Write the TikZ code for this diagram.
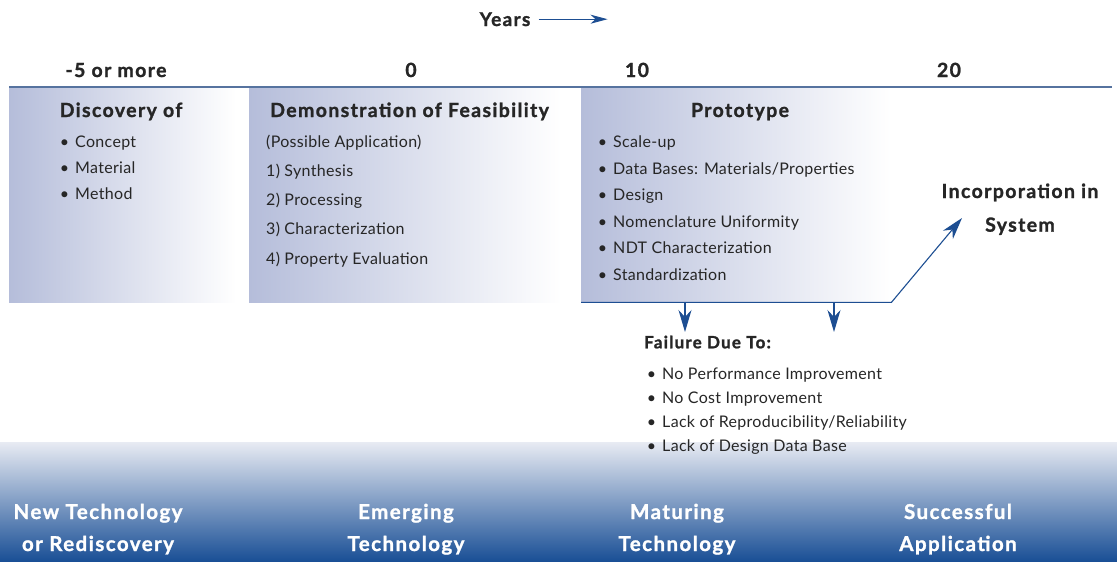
\documentclass[tikz,border=0pt]{standalone}
\usepackage{fontspec}
\setmainfont{Lato}
\newfontfamily\headfont{Lato}[LetterSpace=7, BoldFeatures={FakeBold=1.3}]
\newfontfamily\bodyfont{Lato}[LetterSpace=2]
\usetikzlibrary{arrows.meta}

\definecolor{ink}{HTML}{262626}
\definecolor{pale}{HTML}{B5BDDA}
\definecolor{rulecol}{HTML}{56739F}
\definecolor{navy}{HTML}{1D4E92}
\definecolor{bandtop}{HTML}{E8EBF3}
\definecolor{bandbot}{HTML}{184E95}

% bullet hanging left of the item text
\newcommand{\itm}[1]{\llap{\textbullet\hspace{6pt}}#1}

\begin{document}
\begin{tikzpicture}[x=1pt,y=-1pt]
	\tikzstyle{stage}=[inner sep=0pt, anchor=north west, minimum height=214pt, left color=pale, right color=white]
	\tikzstyle{head}=[inner sep=0pt, anchor=base, text=ink, font=\fontsize{19.5}{22}\headfont\bfseries]
	\tikzstyle{item}=[inner sep=0pt, anchor=base west, text=ink, font=\fontsize{16}{18}\bodyfont]
	\tikzstyle{phase}=[inner sep=0pt, anchor=base, text=white, font=\fontsize{20.5}{24}\headfont\bfseries]
	\tikzstyle{flow}=[draw=navy, line width=1.1pt, -{Stealth[length=22pt,width=13pt,inset=7pt]}]
	
	\useasboundingbox (0,0) rectangle (1117,562);
	
	% bottom band
	\shade[top color=bandtop, bottom color=bandbot] (0,442) rectangle (1117,562);
	
	% time axis
	\node[head, font=\fontsize{19}{20}\headfont\bfseries](yrs) at (505,26) {Years};
	\path (yrs.east) ++(77,0) coordinate (yrsEnd);
	\draw[flow, line width=0.9pt, -{Stealth[length=17pt,width=9pt,inset=5pt]}, shorten <=8pt] (yrs.east) -- (yrsEnd);
	
	\node[head](tMinus) at (116,77) {-5 or more};
	\node[head](tZero) at (411,77) {0};
	\node[head](tTen) at (637,77) {10};
	\node[head](tTwenty) at (949,77) {20};
	
	\coordinate (ruleL) at (9,87);
	\coordinate (ruleR) at (1112,87);
	
	% stages
	\node[stage, minimum width=227pt](discBox) at (9,88) {};
	\node[stage, minimum width=312pt](demoBox) at (249,88) {};
	\node[stage, minimum width=310pt](protoBox) at (581,88) {};
	
	\draw[rulecol, line width=1.4pt] (ruleL) -- (ruleR);
	
	\node[head](disc) at (121,117) {Discovery of};
	\node[item](disc1) at (75,147.5) {\itm{Concept}};
	\node[item](disc2) at (75,173.5) {\itm{Material}};
	\node[item](disc3) at (75,199.5) {\itm{Method}};
	
	\node[head, anchor=base west](demo) at (270,117) {Demonstration of Feasibility};
	\node[item](demo0) at (266,147) {(Possible Application)};
	\node[item](demo1) at (266,176.3) {1) Synthesis};
	\node[item](demo2) at (266,205.5) {2) Processing};
	\node[item](demo3) at (266,234.7) {3) Characterization};
	\node[item](demo4) at (266,264) {4) Property Evaluation};
	
	\node[head](proto) at (740,117) {Prototype};
	\node[item](proto1) at (613,147.5) {\itm{Scale-up}};
	\node[item](proto2) at (613,174) {\itm{Data Bases: Materials/Properties}};
	\node[item](proto3) at (613,200.5) {\itm{Design}};
	\node[item](proto4) at (613,227) {\itm{Nomenclature Uniformity}};
	\node[item](proto5) at (613,253.5) {\itm{NDT Characterization}};
	\node[item](proto6) at (613,280) {\itm{Standardization}};
	
	\node[head](inc1) at (1020,198) {Incorporation in};
	\node[head](inc2) at (1020,231.7) {System};
	\coordinate (incTip) at (962,218);
	
	\draw[flow] (protoBox.south west) -- (protoBox.south east) -- (incTip);
	
	% failure branch
	\coordinate (dropA) at (685,302);
	\coordinate (dropAEnd) at (685,332);
	\coordinate (dropB) at (834,302);
	\coordinate (dropBEnd) at (834,332);
	\draw[flow] (dropA) -- (dropAEnd);
	\draw[flow] (dropB) -- (dropBEnd);
	
	\node[head, anchor=base west, font=\fontsize{17}{20}\headfont\bfseries](fail) at (644,348.3) {Failure Due To:};
	\node[item](fail1) at (662,379) {\itm{No Performance Improvement}};
	\node[item](fail2) at (662,403) {\itm{No Cost Improvement}};
	\node[item](fail3) at (662,427) {\itm{Lack of Reproducibility/Reliability}};
	\node[item](fail4) at (662,451) {\itm{Lack of Design Data Base}};
	
	% phases
	\node[phase](newA) at (98,519) {New Technology};
	\node[phase](newB) at (98,551) {or Rediscovery};
	\node[phase](emA) at (406,519) {Emerging};
	\node[phase](emB) at (406,551) {Technology};
	\node[phase](matA) at (677,519) {Maturing};
	\node[phase](matB) at (677,551) {Technology};
	\node[phase](sucA) at (958,519) {Successful};
	\node[phase](sucB) at (958,551) {Application};
	
\end{tikzpicture}
\end{document}
